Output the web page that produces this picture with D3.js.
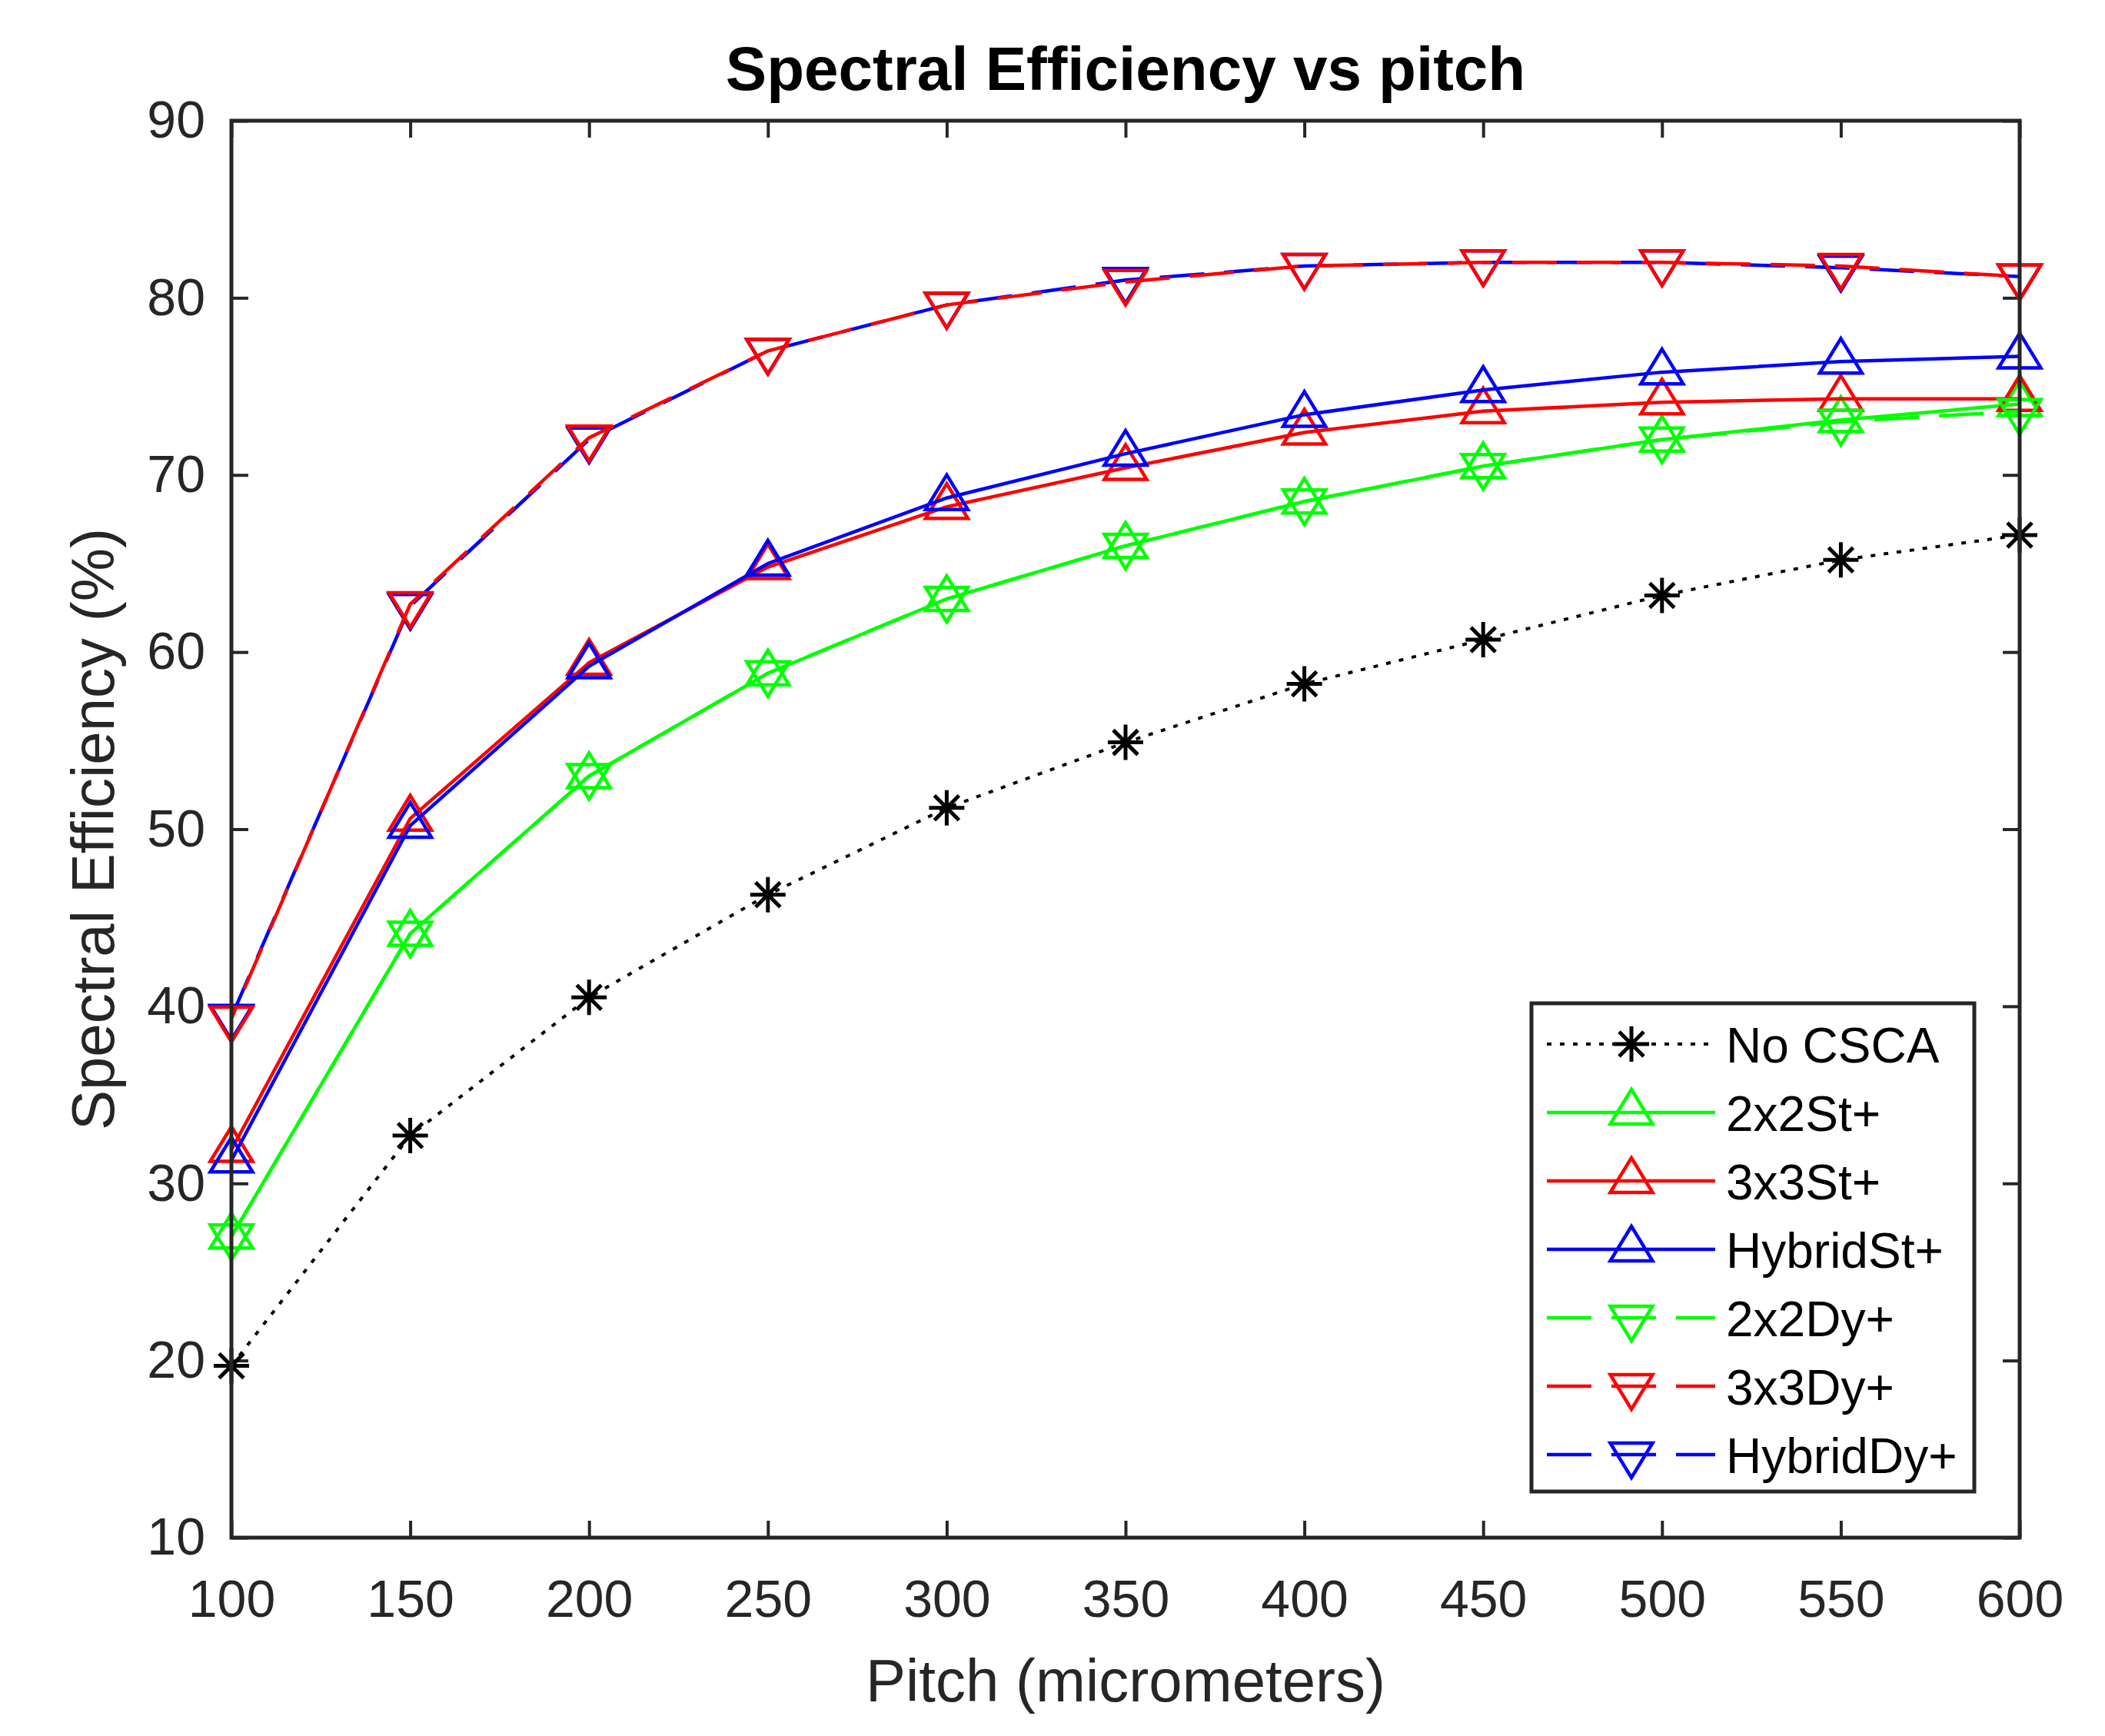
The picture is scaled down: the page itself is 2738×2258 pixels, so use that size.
<!DOCTYPE html>
<html>
<head>
<meta charset="utf-8">
<script src="https://cdn.jsdelivr.net/npm/d3@7"></script>
<style>
  html, body { margin: 0; padding: 0; background: #fff; }
  svg { display: block; }
  text { font-family: "Liberation Sans", Arial, Helvetica, sans-serif; }
</style>
</head>
<body>
<svg id="chart" width="2738" height="2258"></svg>
<script>
// ---------------- DATA ----------------
const pitch = [100, 150, 200, 250, 300, 350, 400, 450, 500, 550, 600];
const noCSCA   = [19.7, 32.7, 40.5, 46.3, 51.2, 54.9, 58.2, 60.7, 63.2, 65.2, 66.6];
const st2x2    = [27.0, 44.1, 53.0, 58.8, 63.0, 66.0, 68.5, 70.5, 72.0, 73.1, 74.0];
const st3x3    = [31.9, 50.6, 59.4, 64.8, 68.2, 70.4, 72.4, 73.6, 74.1, 74.3, 74.3];
const stHybrid = [31.3, 50.2, 59.2, 65.0, 68.7, 71.2, 73.4, 74.8, 75.8, 76.4, 76.7];
const dy2x2    = [27.0, 44.1, 53.0, 58.8, 63.0, 66.0, 68.5, 70.5, 72.0, 73.0, 73.6];
const dy3x3    = [39.3, 62.7, 72.1, 77.0, 79.6, 80.9, 81.8, 82.0, 82.0, 81.8, 81.2];
const dyHybrid = [39.4, 62.6, 72.0, 77.0, 79.6, 81.0, 81.8, 82.0, 82.0, 81.7, 81.2];
const seriesNames = ["No CSCA", "2x2St+", "3x3St+", "HybridSt+", "2x2Dy+", "3x3Dy+", "HybridDy+"];
const xTicks = [100, 150, 200, 250, 300, 350, 400, 450, 500, 550, 600];
const yTicks = [10, 20, 30, 40, 50, 60, 70, 80, 90];
const titleText = "Spectral Efficiency vs pitch";
const xLabelText = "Pitch (micrometers)";
const yLabelText = "Spectral Efficiency (%)";

// ---------------- STYLE ----------------
const seriesValues = [noCSCA, st2x2, st3x3, stHybrid, dy2x2, dy3x3, dyHybrid];
const styles = [
  {color: "#000000", dash: "6,11", marker: "star"},
  {color: "#00ff00", dash: null, marker: "up"},
  {color: "#ff0000", dash: null, marker: "up"},
  {color: "#0000ff", dash: null, marker: "up"},
  {color: "#00ff00", dash: "58,26", marker: "down", offset: 0},
  {color: "#ff0000", dash: "58,26", marker: "down", offset: 42},
  {color: "#0000ff", dash: "58,26", marker: "down", offset: 0}
];
const drawOrder = [0, 1, 2, 3, 4, 6, 5];
const axisColor = "#262626";
const fontFamily = '"Liberation Sans", Arial, Helvetica, sans-serif';

const L = 301, R = 2627, T = 157, B = 2000;
const svg = d3.select("#chart");
svg.append("rect").attr("width", 2738).attr("height", 2258).attr("fill", "#fff");

const x = d3.scaleLinear().domain([100, 600]).range([L, R]);
const y = d3.scaleLinear().domain([10, 90]).range([B, T]);

function markerPath(type) {
  if (type === "star") {
    const r = 23, d = 16;
    return `M${-r},0L${r},0M0,${-r}L0,${r}M${-d},${-d}L${d},${d}M${-d},${d}L${d},${-d}`;
  }
  const w = 27.5;
  if (type === "up") return `M0,-30L${w},15L${-w},15Z`;
  return `M0,30L${w},-15L${-w},-15Z`;
}

// ---------------- AXES ----------------
const tickLen = 22;
function styleAxis(g) {
  g.select(".domain").remove();
  g.selectAll(".tick line").attr("stroke", axisColor).attr("stroke-width", 4);
  g.selectAll(".tick text").attr("fill", axisColor)
    .style("font-family", fontFamily).style("font-size", "68px");
}
svg.append("g").attr("transform", `translate(0,${B})`)
  .call(d3.axisBottom(x).tickValues(xTicks).tickFormat(d3.format("d"))
    .tickSizeInner(-tickLen).tickSizeOuter(0).tickPadding(55))
  .call(styleAxis);
svg.append("g").attr("transform", `translate(0,${T})`)
  .call(d3.axisTop(x).tickValues(xTicks).tickFormat("")
    .tickSizeInner(-tickLen).tickSizeOuter(0))
  .call(styleAxis);
svg.append("g").attr("transform", `translate(${L},0)`)
  .call(d3.axisLeft(y).tickValues(yTicks).tickFormat(d3.format("d"))
    .tickSizeInner(-tickLen).tickSizeOuter(0).tickPadding(34))
  .call(styleAxis);
svg.append("g").attr("transform", `translate(${R},0)`)
  .call(d3.axisRight(y).tickValues(yTicks).tickFormat("")
    .tickSizeInner(-tickLen).tickSizeOuter(0))
  .call(styleAxis);

// ---------------- SERIES ----------------
const line = d3.line().x(d => x(d[0])).y(d => y(d[1]));
const plotG = svg.append("g");
drawOrder.forEach(i => {
  const st = styles[i];
  const pts = pitch.map((p, j) => [p, seriesValues[i][j]]);
  const g = plotG.append("g");
  g.append("path").datum(pts).attr("d", line)
    .attr("fill", "none").attr("stroke", st.color)
    .attr("stroke-width", st.marker === "star" ? 4 : 4.5)
    .attr("stroke-dasharray", st.dash)
    .attr("stroke-dashoffset", st.offset || 0);
  g.selectAll("path.mk").data(pts).join("path").attr("class", "mk")
    .attr("transform", d => `translate(${x(d[0])},${y(d[1])})`)
    .attr("d", markerPath(st.marker))
    .attr("fill", "none").attr("stroke", st.color)
    .attr("stroke-width", st.marker === "star" ? 5 : 4.5)
    .attr("stroke-linejoin", "miter");
});

// frame
svg.append("rect").attr("x", L).attr("y", T).attr("width", R - L).attr("height", B - T)
  .attr("fill", "none").attr("stroke", axisColor).attr("stroke-width", 5);

// ---------------- TEXT ----------------
svg.append("text").attr("x", (L + R) / 2).attr("y", 117).attr("text-anchor", "middle")
  .style("font-size", "80px").style("font-weight", "bold").attr("fill", "#000")
  .text(titleText);
svg.append("text").attr("x", (L + R) / 2).attr("y", 2213).attr("text-anchor", "middle")
  .style("font-size", "78px").attr("fill", axisColor).text(xLabelText);
svg.append("text").attr("transform", `translate(148,${(T + B) / 2}) rotate(-90)`)
  .attr("text-anchor", "middle")
  .style("font-size", "78px").attr("fill", axisColor).text(yLabelText);

// ---------------- LEGEND ----------------
const lg = svg.append("g");
lg.append("rect").attr("x", 1992).attr("y", 1305).attr("width", 2568 - 1992).attr("height", 1940 - 1305)
  .attr("fill", "#fff").attr("stroke", axisColor).attr("stroke-width", 5);
const rowY = d3.scaleLinear().domain([0, 6]).range([1358, 1892]);
seriesNames.forEach((name, i) => {
  const st = styles[i];
  const cy = rowY(i);
  const row = lg.append("g");
  row.append("line").attr("x1", 2012).attr("x2", 2231).attr("y1", cy).attr("y2", cy)
    .attr("stroke", st.color).attr("stroke-width", st.marker === "star" ? 4 : 4.5)
    .attr("stroke-dasharray", st.dash);
  row.append("path").attr("transform", `translate(2122,${cy})`)
    .attr("d", markerPath(st.marker)).attr("fill", "none")
    .attr("stroke", st.color).attr("stroke-width", st.marker === "star" ? 5 : 4.5);
  row.append("text").attr("x", 2245).attr("y", cy + 24)
    .style("font-size", "64px").attr("fill", "#000").text(name);
});
</script>
</body>
</html>
